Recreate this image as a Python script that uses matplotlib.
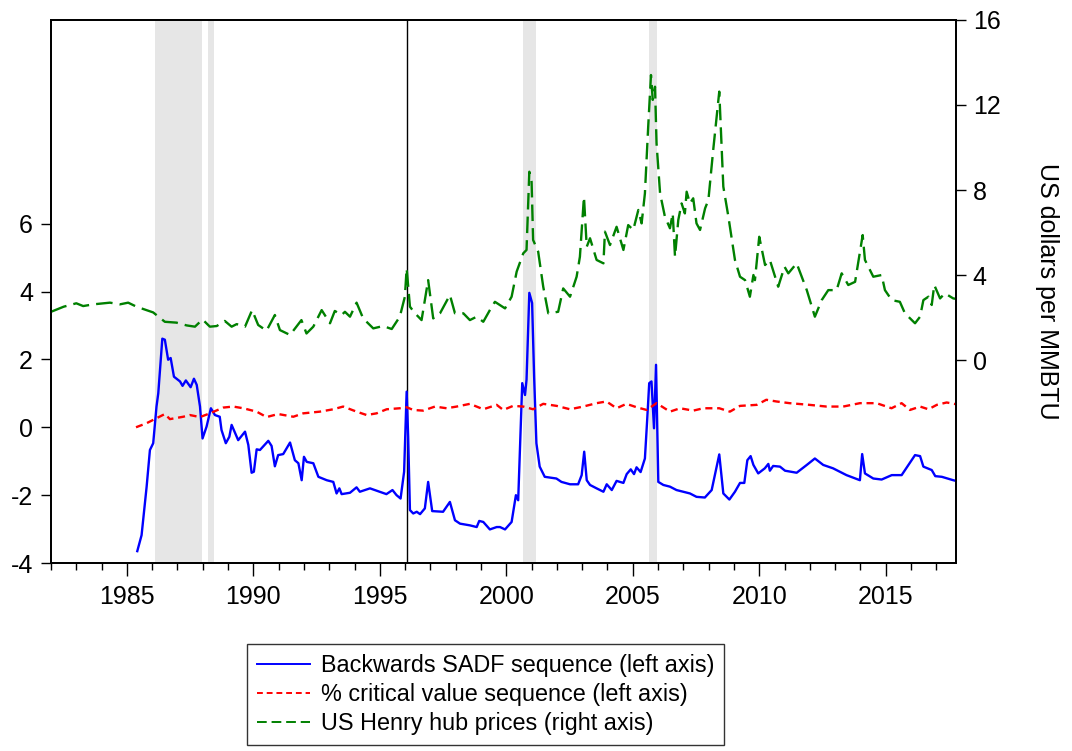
import matplotlib
matplotlib.use("Agg")
import matplotlib.pyplot as plt
from matplotlib.lines import Line2D

plt.rcParams['font.family'] = ['Liberation Sans', 'DejaVu Sans']
plt.rcParams['axes.unicode_minus'] = False

# US Henry hub prices (right axis), decimal years
henry_t = [1982.0, 1982.5, 1983.0, 1983.27, 1983.67, 1984.33, 1984.72, 1985.05, 1985.38,
           1986.04, 1986.5, 1986.96, 1987.36, 1987.69, 1987.99, 1988.28, 1988.55, 1988.87,
           1989.14, 1989.34, 1989.67, 1989.95, 1990.19, 1990.52, 1990.85, 1991.05, 1991.45,
           1991.9, 1992.1, 1992.37, 1992.7, 1993.03, 1993.22, 1993.49, 1993.62, 1993.82,
           1994.08, 1994.34, 1994.74, 1995.13, 1995.47, 1995.79, 1995.99, 1996.06, 1996.19,
           1996.39, 1996.65, 1996.91, 1997.11, 1997.38, 1997.77, 1997.97, 1998.3, 1998.56,
           1998.83, 1999.09, 1999.35, 1999.55, 1999.95, 2000.21, 2000.41, 2000.67, 2000.8,
           2000.91, 2001.0, 2001.06, 2001.26, 2001.46, 2001.66, 2002.05, 2002.25, 2002.52,
           2002.78, 2002.91, 2003.07, 2003.18, 2003.31, 2003.57, 2003.84, 2003.9, 2004.1,
           2004.36, 2004.63, 2004.82, 2005.02, 2005.22, 2005.35, 2005.48, 2005.61, 2005.72,
           2005.79, 2005.88, 2005.94, 2006.08, 2006.27, 2006.47, 2006.58, 2006.67, 2006.8,
           2006.93, 2007.06, 2007.13, 2007.26, 2007.39, 2007.52, 2007.66, 2007.86, 2007.99,
           2008.18, 2008.42, 2008.58, 2008.78, 2009.04, 2009.24, 2009.44, 2009.63, 2009.77,
           2009.83, 2010.0, 2010.23, 2010.42, 2010.75, 2011.0, 2011.15, 2011.48, 2011.88,
           2012.2, 2012.47, 2012.73, 2013.06, 2013.26, 2013.52, 2013.79, 2014.09, 2014.18,
           2014.51, 2014.84, 2014.97, 2015.24, 2015.56, 2015.76, 2016.16, 2016.36, 2016.49,
           2016.69, 2016.82, 2016.92, 2017.15, 2017.34, 2017.67, 2017.78]
henry_v = [2.27, 2.51, 2.67, 2.54, 2.62, 2.70, 2.62, 2.70, 2.51,
           2.24, 1.80, 1.76, 1.63, 1.57, 1.91, 1.57, 1.60, 1.84,
           1.57, 1.69, 1.57, 2.35, 1.65, 1.38, 2.12, 1.41, 1.18,
           1.88, 1.25, 1.57, 2.35, 1.73, 2.31, 2.12, 2.27, 2.04,
           2.70, 1.96, 1.49, 1.60, 1.46, 2.04, 2.98, 4.31, 2.51,
           2.20, 1.88, 3.76, 1.96, 2.20, 3.06, 2.20, 2.20, 1.88,
           2.04, 1.80, 2.35, 2.74, 2.43, 2.98, 4.16, 5.02, 5.18,
           8.86, 8.39, 5.65, 5.10, 3.45, 2.20, 2.27, 3.37, 2.98,
           3.92, 4.86, 7.68, 5.33, 5.73, 4.71, 4.55, 6.04, 5.41,
           6.27, 5.18, 6.35, 6.12, 7.06, 6.43, 7.84, 10.98, 13.41,
           12.24, 12.86, 10.20, 7.84, 6.75, 6.20, 6.90, 4.86, 6.59,
           7.37, 6.90, 7.92, 7.37, 7.61, 6.43, 6.12, 7.14, 7.53,
           9.88, 12.63, 8.16, 6.75, 4.71, 3.92, 3.76, 2.98, 4.00,
           3.76, 5.80, 4.47, 4.71, 3.45, 4.39, 4.08, 4.55, 3.29,
           2.04, 2.82, 3.29, 3.29, 4.08, 3.53, 3.68, 5.88, 4.71,
           3.92, 4.00, 3.29, 2.82, 2.74, 2.20, 1.73, 2.04, 2.82,
           2.98, 2.59, 3.53, 2.90, 3.14, 2.90, 2.88]

# critical value sequence (left axis)
cv_t = [1985.36, 1985.78, 1986.5, 1986.7, 1987.23, 1987.49, 1987.89, 1988.28, 1988.81,
        1989.2, 1989.6, 1990.13, 1990.52, 1990.98, 1991.58, 1991.97, 1992.63, 1993.16,
        1993.55, 1994.08, 1994.48, 1994.87, 1995.27, 1995.79, 1996.06, 1996.32, 1996.71,
        1997.18, 1997.64, 1998.04, 1998.56, 1999.09, 1999.62, 1999.88, 2000.27, 2000.67,
        2001.06, 2001.46, 2001.99, 2002.52, 2003.04, 2003.57, 2003.96, 2004.36, 2004.75,
        2005.15, 2005.55, 2005.94, 2006.47, 2006.87, 2007.39, 2007.79, 2008.42, 2008.84,
        2009.24, 2009.9, 2010.28, 2010.68, 2011.2, 2011.99, 2012.66, 2013.32, 2013.98,
        2014.64, 2015.23, 2015.63, 2015.96, 2016.36, 2016.69, 2017.02, 2017.41, 2017.78]
cv_v = [0.0, 0.12, 0.39, 0.24, 0.31, 0.36, 0.30, 0.41, 0.58,
        0.61, 0.56, 0.46, 0.30, 0.39, 0.31, 0.41, 0.46, 0.53,
        0.61, 0.46, 0.36, 0.41, 0.53, 0.56, 0.59, 0.51, 0.49,
        0.61, 0.56, 0.61, 0.69, 0.53, 0.66, 0.51, 0.63, 0.61,
        0.53, 0.69, 0.63, 0.53, 0.61, 0.71, 0.76, 0.56, 0.69,
        0.59, 0.51, 0.71, 0.46, 0.56, 0.49, 0.56, 0.56, 0.46,
        0.63, 0.66, 0.81, 0.76, 0.71, 0.66, 0.61, 0.61, 0.71,
        0.71, 0.56, 0.71, 0.51, 0.61, 0.53, 0.66, 0.73, 0.68]

# backwards SADF sequence (left axis)
bsadf_t = [1985.41, 1985.58, 1985.78, 1985.91, 1986.04, 1986.17, 1986.24, 1986.40, 1986.50,
           1986.63, 1986.73, 1986.86, 1987.10, 1987.20, 1987.33, 1987.52, 1987.65, 1987.76,
           1987.89, 1987.99, 1988.15, 1988.32, 1988.48, 1988.67, 1988.74, 1988.91, 1989.05,
           1989.14, 1989.40, 1989.67, 1989.80, 1989.93, 1990.02, 1990.13, 1990.26, 1990.59,
           1990.72, 1990.85, 1990.98, 1991.18, 1991.45, 1991.64, 1991.78, 1991.91, 1992.0,
           1992.11, 1992.37, 1992.57, 1992.9, 1993.16, 1993.29, 1993.4, 1993.49, 1993.82,
           1994.08, 1994.21, 1994.61, 1995.0, 1995.26, 1995.5, 1995.66, 1995.82, 1995.96,
           1996.06, 1996.12, 1996.19, 1996.32, 1996.46, 1996.59, 1996.78, 1996.91, 1997.07,
           1997.5, 1997.77, 1997.97, 1998.17, 1998.56, 1998.83, 1998.93, 1999.09, 1999.35,
           1999.62, 1999.75, 1999.95, 2000.21, 2000.38, 2000.47, 2000.63, 2000.74, 2000.80,
           2000.91, 2001.02, 2001.10, 2001.19, 2001.32, 2001.52, 2001.98, 2002.18, 2002.52,
           2002.84, 2002.98, 2003.08, 2003.18, 2003.31, 2003.57, 2003.84, 2003.97, 2004.17,
           2004.36, 2004.63, 2004.76, 2004.92, 2005.05, 2005.15, 2005.31, 2005.48, 2005.57,
           2005.65, 2005.74, 2005.84, 2005.92, 2006.01, 2006.21, 2006.47, 2006.73, 2007.0,
           2007.26, 2007.52, 2007.85, 2008.12, 2008.42, 2008.58, 2008.82, 2009.04, 2009.24,
           2009.41, 2009.53, 2009.66, 2009.77, 2009.96, 2010.22, 2010.36, 2010.42, 2010.55,
           2010.82, 2011.02, 2011.48, 2011.88, 2012.20, 2012.53, 2012.92, 2013.45, 2013.98,
           2014.07, 2014.18, 2014.51, 2014.84, 2015.24, 2015.63, 2015.90, 2016.16, 2016.36,
           2016.49, 2016.82, 2016.96, 2017.22, 2017.67, 2017.78]
bsadf_v = [-3.65, -3.18, -1.75, -0.67, -0.47, 0.61, 1.0, 2.61, 2.58,
           1.99, 2.04, 1.49, 1.35, 1.22, 1.38, 1.18, 1.43, 1.25,
           0.61, -0.33, 0.02, 0.56, 0.36, 0.31, -0.08, -0.47, -0.28,
           0.07, -0.38, -0.13, -0.52, -1.34, -1.31, -0.65, -0.67, -0.40,
           -0.55, -1.15, -0.82, -0.79, -0.45, -0.97, -1.06, -1.56, -0.87,
           -1.02, -1.06, -1.46, -1.56, -1.61, -1.95, -1.80, -1.97, -1.93,
           -1.77, -1.90, -1.80, -1.90, -1.97, -1.85, -2.0, -2.10, -1.31,
           1.05, -0.28, -2.44, -2.54, -2.49, -2.56, -2.39, -1.61, -2.47,
           -2.49, -2.20, -2.74, -2.84, -2.89, -2.94, -2.76, -2.79, -3.01,
           -2.94, -2.94, -3.01, -2.79, -2.0, -2.15, 1.30, 0.95, 1.40,
           3.96, 3.66, 1.49, -0.47, -1.16, -1.46, -1.51, -1.61, -1.68,
           -1.68, -1.41, -0.72, -1.56, -1.70, -1.80, -1.90, -1.68, -1.85,
           -1.58, -1.64, -1.38, -1.24, -1.38, -1.18, -1.32, -0.92, 0.22,
           1.30, 1.35, -0.03, 1.84, -1.61, -1.70, -1.75, -1.85, -1.90,
           -1.95, -2.05, -2.07, -1.85, -0.80, -1.95, -2.13, -1.90, -1.64,
           -1.64, -0.97, -0.85, -1.11, -1.36, -1.21, -1.08, -1.28, -1.14,
           -1.16, -1.28, -1.34, -1.11, -0.92, -1.11, -1.21, -1.41, -1.56,
           -0.79, -1.36, -1.51, -1.54, -1.41, -1.41, -1.11, -0.82, -0.85,
           -1.16, -1.26, -1.44, -1.46, -1.56, -1.58]

# shaded bubble periods and the vertical marker
shade_start = [1986.1, 1988.21, 2000.66, 2005.64]
shade_end = [1987.97, 1988.43, 2001.18, 2005.94]
marker_year = 1996.08

fig = plt.figure(figsize=(10.72, 7.51), dpi=100)
ax = fig.add_axes([0.0476, 0.2503, 0.8442, 0.7231])
ax2 = ax.twinx()

for s, e in zip(shade_start, shade_end):
    ax.axvspan(s, e, color='#e6e6e6', lw=0, zorder=0)
ax.axvline(marker_year, color='black', lw=1.0, zorder=1)

ax.plot(bsadf_t, bsadf_v, color='#0000ff', lw=1.7, zorder=3)
ax.plot(cv_t, cv_v, color='#ff0000', lw=1.7, dashes=(3, 2), zorder=3)
ax2.plot(henry_t, henry_v, color='#008000', lw=1.7, dashes=(7, 3))

ax.set_xlim(1982.0, 2017.78)
ax.set_ylim(-4, 12)
ax2.set_ylim(-9.55, 16)
ax.set_yticks([-4, -2, 0, 2, 4, 6])
ax2.set_yticks([0, 4, 8, 12, 16])
ax.set_xticks([1985, 1990, 1995, 2000, 2005, 2010, 2015])
ax.set_xticks(range(1982, 2018), minor=True)

ax.tick_params(axis='x', which='major', length=9, width=1.0, pad=7, labelsize=18, direction='out')
ax.tick_params(axis='x', which='minor', length=5, width=1.0, direction='out')
ax.tick_params(axis='y', length=7, width=1.0, pad=6, labelsize=18, direction='out')
ax2.tick_params(axis='y', length=7, width=1.0, pad=5, labelsize=18, direction='out')
for a in (ax, ax2):
    for sp in a.spines.values():
        sp.set_linewidth(1.3)

ax2.set_ylabel('US dollars per MMBTU', rotation=270, fontsize=18, labelpad=42)

handles = [Line2D([], [], color='#0000ff', lw=1.4),
           Line2D([], [], color='#ff0000', lw=1.4, dashes=(3, 2)),
           Line2D([], [], color='#008000', lw=1.4, dashes=(5, 2.5))]
labels = ['Backwards SADF sequence (left axis)',
          '% critical value sequence (left axis)',
          'US Henry hub prices (right axis)']
leg = fig.legend(handles, labels, loc='upper left', bbox_to_anchor=(247 / 1072, 1 - 644 / 751),
                 fontsize=16.8, frameon=True, fancybox=False, edgecolor='black',
                 handlelength=2.3, handletextpad=0.45, labelspacing=0.26, borderpad=0.42,
                 borderaxespad=0)
leg.get_frame().set_linewidth(1.0)

fig.savefig('out.png', dpi=100)
